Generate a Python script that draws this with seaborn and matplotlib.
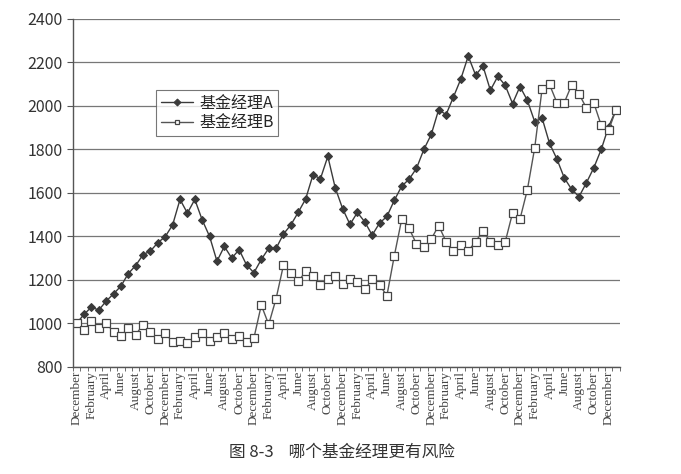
import numpy as np
import pandas as pd
import matplotlib
matplotlib.use("Agg")
import matplotlib.pyplot as plt
import seaborn as sns

# month labels, one every second month (Dec .. Dec, six years) plus the extra January point
month_cycle = ["December", "February", "April", "June", "August", "October"]
n_points = 74
tick_labels = [month_cycle[k % 6] for k in range(37)]

# values
manager_a = [1000, 1041, 1075, 1061, 1102, 1136, 1171, 1229, 1266, 1316,
             1333, 1371, 1399, 1453, 1570, 1507, 1570, 1476, 1400, 1286,
             1354, 1300, 1339, 1269, 1233, 1294, 1345, 1345, 1411, 1453,
             1511, 1572, 1684, 1665, 1768, 1624, 1528, 1455, 1510, 1467,
             1406, 1461, 1492, 1566, 1631, 1663, 1713, 1800, 1869, 1983,
             1960, 2041, 2124, 2229, 2142, 2183, 2072, 2136, 2095, 2011,
             2089, 2026, 1927, 1944, 1828, 1756, 1669, 1616, 1583, 1647,
             1716, 1800, 1905, 1982]
manager_b = [1000, 969, 1009, 980, 1000, 962, 942, 979, 948, 994,
             959, 930, 957, 913, 917, 910, 937, 954, 919, 936,
             956, 927, 944, 916, 933, 1084, 995, 1114, 1268, 1231,
             1193, 1239, 1216, 1178, 1202, 1216, 1180, 1204, 1191, 1156,
             1202, 1176, 1128, 1311, 1479, 1437, 1365, 1351, 1388, 1450,
             1376, 1333, 1362, 1333, 1376, 1426, 1374, 1359, 1374, 1508,
             1479, 1614, 1808, 2080, 2099, 2015, 2015, 2097, 2055, 1990,
             2013, 1911, 1889, 1982]

df = pd.DataFrame({"idx": np.arange(n_points), "A": manager_a, "B": manager_b})

sns.set_style("white")
plt.rcParams["font.family"] = ["Noto Sans CJK SC", "DejaVu Sans"]

fig = plt.figure(figsize=(6.81, 4.74), dpi=100)
ax = fig.add_axes([0.107, 0.226, 0.803, 0.734])

sns.lineplot(data=df, x="idx", y="A", ax=ax, color="#3a3a3a", linewidth=1.0,
             marker="D", markersize=4.5, markerfacecolor="#3a3a3a",
             markeredgecolor="#3a3a3a", label="基金经理A")
sns.lineplot(data=df, x="idx", y="B", ax=ax, color="#555555", linewidth=1.0,
             marker="s", markersize=6, markerfacecolor="white",
             markeredgecolor="#444444", markeredgewidth=0.9, label="基金经理B")

ax.set_xlim(-0.5, n_points - 0.5)
ax.set_ylim(800, 2400)
ax.set_yticks(range(800, 2401, 200))
ax.yaxis.grid(True, color="#777777", linewidth=0.9)
ax.set_axisbelow(True)

ax.set_xticks(np.arange(0, n_points, 2))
ax.set_xticklabels(tick_labels, rotation=90, family="Liberation Serif",
                   fontsize=9.5, color="#444444")
ax.set_xticks(np.arange(-0.5, n_points, 1), minor=True)
ax.tick_params(axis="x", which="major", length=0, pad=3)
ax.tick_params(axis="x", which="minor", length=3, direction="out", color="#555555",
               bottom=True)
ax.tick_params(axis="y", length=4, direction="out", color="#555555", left=True,
               labelsize=11.5, labelcolor="#333333")

for side in ["top", "right"]:
    ax.spines[side].set_visible(False)
for side in ["left", "bottom"]:
    ax.spines[side].set_color("#555555")
    ax.spines[side].set_linewidth(1.0)

ax.set_xlabel("")
ax.set_ylabel("")

leg = ax.legend(loc="upper left", bbox_to_anchor=(0.152, 0.796), fontsize=11.5,
                frameon=True, fancybox=False, edgecolor="#555555",
                borderpad=0.3, labelspacing=0.15, handlelength=2.0,
                handletextpad=0.4, borderaxespad=0)
leg.get_frame().set_linewidth(0.8)
for line in leg.get_lines():
    line.set_markersize(3.5)

fig.text(0.502, 0.046, "图 8-3    哪个基金经理更有风险", ha="center", va="center",
         fontsize=12, color="#333333")

fig.savefig("out.png", dpi=100)
